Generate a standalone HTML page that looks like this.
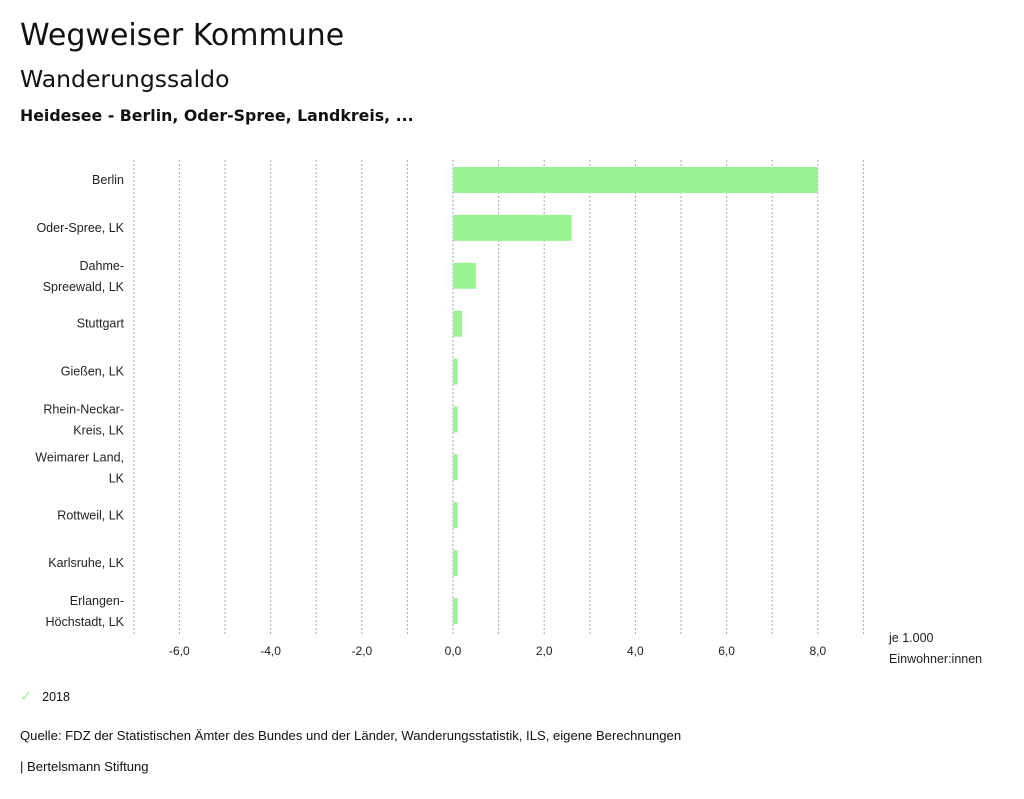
<!DOCTYPE html>
<html><head><meta charset="utf-8"><style>
body{margin:0;width:1024px;height:799px;background:#fff;font-family:"Liberation Sans",sans-serif;color:#111;position:relative;overflow:hidden}
.t{position:absolute;white-space:nowrap}
</style></head><body>
<div class="t" style="left:20px;top:18px;font-family:'DejaVu Sans',sans-serif;font-size:30px">Wegweiser Kommune</div>
<div class="t" style="left:20px;top:65px;font-family:'DejaVu Sans',sans-serif;font-size:23.5px">Wanderungssaldo</div>
<div class="t" style="left:20px;top:106px;font-family:'DejaVu Sans',sans-serif;font-size:15.8px;font-weight:bold">Heidesee - Berlin, Oder-Spree, Landkreis, ...</div>
<svg id="chart" width="1024" height="799" style="position:absolute;left:0;top:0"></svg>
<div class="t" style="left:20px;top:688px;font-size:12.5px"><span style="color:#98f490;font-size:14px">✓</span>&nbsp;&nbsp;&nbsp;2018</div>
<div class="t" style="left:20px;top:728px;font-size:13.1px">Quelle: FDZ der Statistischen Ämter des Bundes und der Länder, Wanderungsstatistik, ILS, eigene Berechnungen</div>
<div class="t" style="left:20px;top:759px;font-size:13.1px">| Bertelsmann Stiftung</div>
<script>
const categories=[["Berlin"],["Oder-Spree, LK"],["Dahme-","Spreewald, LK"],["Stuttgart"],["Gießen, LK"],["Rhein-Neckar-","Kreis, LK"],["Weimarer Land,","LK"],["Rottweil, LK"],["Karlsruhe, LK"],["Erlangen-","Höchstadt, LK"]];
const values=[8.0,2.6,0.5,0.2,0.1,0.1,0.1,0.1,0.1,0.1];
const tickValues=[-6,-4,-2,0,2,4,6,8];
const tickLabels=["-6,0","-4,0","-2,0","0,0","2,0","4,0","6,0","8,0"];
const NS="http://www.w3.org/2000/svg",svg=document.getElementById('chart');
const x=v=>453+v*45.6;
const yc=i=>180+i*47.9;
function el(t,a){const e=document.createElementNS(NS,t);for(const k in a)e.setAttribute(k,a[k]);svg.appendChild(e);return e;}
for(let g=-7;g<=9;g++){
 const l=el('line',{x1:x(g),x2:x(g),y1:160,y2:636,stroke:'#aaa','stroke-dasharray':'2,2','stroke-width':1});
 
 
}
tickValues.forEach((v,i)=>{
 const t=el('text',{x:x(v),y:655,'text-anchor':'middle','font-size':12,fill:'#222'});
 t.textContent=tickLabels[i];
 
 
});
categories.forEach((c,i)=>{
 const v=values[i];
 const r=el('rect',{x:Math.min(x(0),x(v)),y:yc(i)-13,width:Math.abs(x(v)-x(0)),height:26,fill:'#98f490'});
 
 
 c.forEach((s,j)=>{
  const t=el('text',{x:124,y:yc(i)+4+(c.length===2?(j===0?-10:11):0),'text-anchor':'end','font-size':12.5,fill:'#222'});
  t.textContent=s;
  
  
 });
});
[["je 1.000",642],["Einwohner:innen",663]].forEach(([s,yy])=>{
 const t=el('text',{x:889,y:yy,'font-size':12.5,fill:'#222'});
 t.textContent=s;
 
 
});
</script>
</body></html>
